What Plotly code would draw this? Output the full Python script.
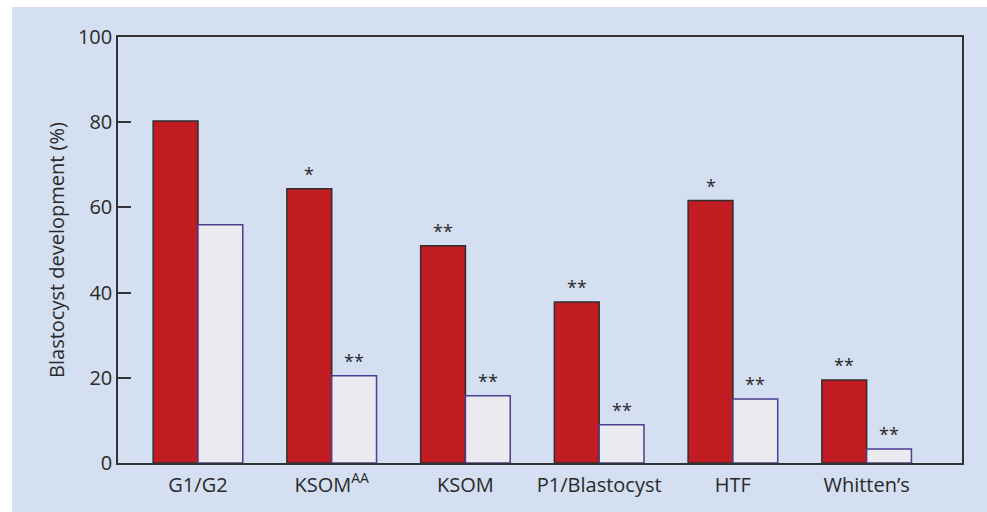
import plotly.graph_objects as go

# Culture media compared
media = ["G1/G2", "KSOM<sup>AA</sup>", "KSOM", "P1/Blastocyst", "HTF", "Whitten’s"]
# Blastocyst development (%) for the two groups
group_a = [80.3, 64.4, 51.0, 37.8, 61.6, 19.5]
group_b = [55.9, 20.5, 15.8, 9.0, 15.0, 3.3]
# Significance marks over each bar
sig_a = ["", "*", "**", "**", "*", "**"]
sig_b = ["", "**", "**", "**", "**", "**"]
y_ticks = [0, 20, 40, 60, 80, 100]

BG = "#d4dff1"
INK = "#2a2a2a"
FONT = "Open Sans"

xpos = list(range(len(media)))
bar_w = 0.335

fig = go.Figure()
fig.add_trace(go.Bar(
    x=xpos, y=group_a, width=bar_w, offset=-bar_w,
    marker=dict(color="#c11c22", line=dict(color="#2e2e2e", width=1.5)),
    showlegend=False,
))
fig.add_trace(go.Bar(
    x=xpos, y=group_b, width=bar_w, offset=0,
    marker=dict(color="#ebebef", line=dict(color="#4a3f93", width=1.5)),
    showlegend=False,
))

# Significance asterisks above bars
for i, (va, sa, vb, sb) in enumerate(zip(group_a, sig_a, group_b, sig_b)):
    for val, s, dx in ((va, sa, -bar_w / 2), (vb, sb, bar_w / 2)):
        if s:
            fig.add_annotation(
                x=i + dx, y=val, xref="x", yref="y", text=s, showarrow=False,
                yanchor="bottom", yshift=1,
                font=dict(family=FONT, size=18, color=INK),
            )

# Light blue panel behind the whole chart
fig.add_shape(
    type="rect", xref="paper", yref="paper",
    x0=-0.1256, x1=1.1, y0=-0.12, y1=1.0704,
    fillcolor=BG, line=dict(width=0), layer="below",
)

fig.update_layout(
    width=987, height=512,
    margin=dict(l=118, r=25, t=37, b=49),
    paper_bgcolor="white", plot_bgcolor=BG,
    font=dict(family=FONT, size=20, color=INK),
    xaxis=dict(
        range=[-0.598, 5.713], tickvals=xpos, ticktext=media,
        showline=True, linecolor="#333333", linewidth=1.5, mirror=True,
        ticks="", showgrid=False, zeroline=False, ticklabelstandoff=3,
        tickfont=dict(family=FONT, size=20, color=INK),
    ),
    yaxis=dict(
        range=[0, 100], tickvals=y_ticks,
        showline=True, linecolor="#333333", linewidth=1.5, mirror=True,
        ticks="inside", ticklen=13, tickcolor="#333333", tickwidth=1.5,
        showgrid=False, zeroline=False,
        tickfont=dict(family=FONT, size=20, color=INK),
        title=dict(text="Blastocyst development (%)", standoff=8,
                   font=dict(family=FONT, size=20, color=INK)),
    ),
)

fig.write_html("out.html")
